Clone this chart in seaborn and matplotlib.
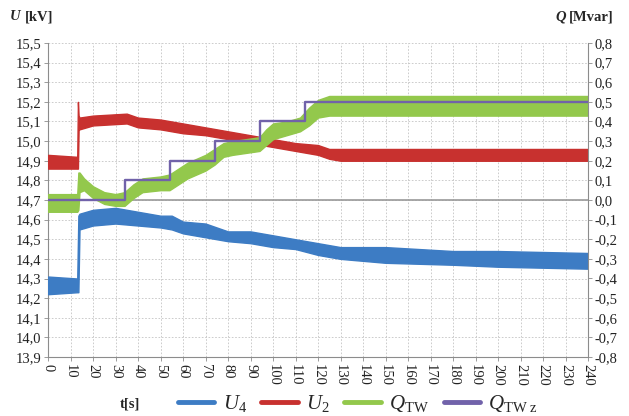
import numpy as np
import pandas as pd
import matplotlib
matplotlib.use("Agg")
import matplotlib.pyplot as plt
from matplotlib.lines import Line2D
from matplotlib.ticker import MultipleLocator, FuncFormatter
import seaborn as sns

# --- measured envelopes (min / max of the noisy records) ---
t_u4 = [0, 13, 13.5, 14, 20, 30, 40, 50, 55, 60, 70, 80, 90, 100, 110, 120, 130, 150, 180, 200, 240]
u4_lo = [14.22, 14.23, 14.23, 14.55, 14.57, 14.58, 14.57, 14.56, 14.55, 14.53, 14.51, 14.49,
         14.48, 14.46, 14.45, 14.42, 14.40, 14.38, 14.37, 14.36, 14.35]
u4_hi = [14.31, 14.30, 14.62, 14.63, 14.65, 14.66, 14.64, 14.62, 14.62, 14.59, 14.58, 14.54,
         14.54, 14.52, 14.50, 14.48, 14.46, 14.46, 14.44, 14.44, 14.43]

t_u2 = [0, 13, 13.3, 13.6, 14, 20, 35, 40, 50, 60, 70, 80, 90, 100, 110, 120, 125, 130, 240]
u2_lo = [14.86, 14.86, 14.86, 15.06, 15.06, 15.08, 15.09, 15.07, 15.06, 15.04, 15.03, 15.01,
         14.99, 14.97, 14.95, 14.93, 14.91, 14.90, 14.90]
u2_hi = [14.93, 14.92, 15.20, 15.13, 15.12, 15.13, 15.14, 15.12, 15.11, 15.09, 15.07, 15.05,
         15.03, 15.01, 14.99, 14.98, 14.96, 14.96, 14.96]

t_q = [0, 13, 13.5, 14, 16, 20, 25, 30, 34, 38, 42, 50, 54, 58, 62, 66, 70, 74, 78, 82, 88,
       94, 97, 100, 106, 112, 116, 120, 125, 130, 240]
q_lo = [-0.06, -0.06, -0.05, 0.04, 0.05, 0.01, -0.02, -0.03, -0.03, 0.01, 0.04, 0.05, 0.05,
        0.08, 0.11, 0.13, 0.15, 0.18, 0.22, 0.23, 0.24, 0.25, 0.28, 0.31, 0.33, 0.35, 0.38,
        0.42, 0.43, 0.43, 0.43]
q_hi = [0.03, 0.03, 0.14, 0.14, 0.11, 0.07, 0.04, 0.03, 0.04, 0.08, 0.11, 0.12, 0.13, 0.16,
        0.19, 0.21, 0.23, 0.26, 0.29, 0.30, 0.31, 0.32, 0.36, 0.39, 0.40, 0.42, 0.47, 0.51,
        0.53, 0.53, 0.53]

# reactive power set-point (step signal)
t_qz = [0, 34, 54, 74, 94, 114, 240]
qz = [0.0, 0.1, 0.2, 0.3, 0.4, 0.5, 0.5]

c_u4, c_u2, c_q, c_qz = "#3d7cc4", "#c8312f", "#93c84c", "#7162aa"

sns.set_theme(style="white")
plt.rcParams["font.family"] = ["Liberation Serif", "DejaVu Serif"]
plt.rcParams["mathtext.fontset"] = "custom"
plt.rcParams["mathtext.rm"] = "Liberation Serif"
plt.rcParams["mathtext.it"] = "Liberation Serif:italic"
plt.rcParams["mathtext.bf"] = "Liberation Serif:bold"

fig = plt.figure(figsize=(6.29, 4.16), dpi=100)
ax = fig.add_axes([48 / 629, 1 - 357 / 416, 540 / 629, 314 / 416])
ax2 = ax.twinx()

# voltages on the left axis
ax.fill_between(t_u4, u4_lo, u4_hi, color=c_u4, lw=1.0, edgecolor=c_u4, zorder=3)
ax.fill_between(t_u2, u2_lo, u2_hi, color=c_u2, lw=1.0, edgecolor=c_u2, zorder=3)

# reactive power on the right axis
ax2.axhline(0.0, color="#9a9a9a", lw=1.2, zorder=1)
ax2.fill_between(t_q, q_lo, q_hi, color=c_q, lw=1.0, edgecolor=c_q, zorder=2)
dq = pd.DataFrame({"t": t_qz, "q": qz})
sns.lineplot(data=dq, x="t", y="q", ax=ax2, color=c_qz, lw=1.7, drawstyle="steps-post", zorder=4)

ax.set_xlim(0, 240)
ax.set_ylim(13.9, 15.5)
ax2.set_ylim(-0.8, 0.8)
ax.xaxis.set_major_locator(MultipleLocator(10))
ax.yaxis.set_major_locator(MultipleLocator(0.1))
ax2.yaxis.set_major_locator(MultipleLocator(0.1))

comma = FuncFormatter(lambda v, p: f"{v:.1f}".replace(".", ",").replace("-0,0", "0,0"))
ax.yaxis.set_major_formatter(comma)
ax2.yaxis.set_major_formatter(comma)
ax.xaxis.set_major_formatter(FuncFormatter(lambda v, p: f"{v:.0f}"))

ax.grid(True, which="major", color="#c4c4c4", lw=0.6, ls=(0, (2, 2)))
ax.set_axisbelow(True)
for a in (ax, ax2):
    a.set_xlabel("")
    a.set_ylabel("")
    for s in a.spines.values():
        s.set_color("#8c8c8c")
        s.set_linewidth(0.8)
    a.spines["top"].set_visible(False)
ax.spines["right"].set_visible(False)
ax2.spines["left"].set_visible(False)
ax2.spines["bottom"].set_visible(False)

tick_kw = dict(length=3, width=0.6, color="#8c8c8c", labelsize=10.5, pad=2,
               labelcolor="#222222", labelfontfamily="Liberation Serif")
ax.tick_params(axis="y", left=True, **tick_kw)
ax.tick_params(axis="x", bottom=True, labelrotation=-90, **tick_kw)
ax2.tick_params(axis="y", right=True, **tick_kw)

# axis titles
fig.text(10 / 629, 1 - 17 / 416, "U", fontsize=10.5, fontweight="bold", fontstyle="italic",
         va="center", ha="left")
fig.text(25 / 629, 1 - 17 / 416, "[kV]", fontsize=10.5, fontweight="bold", va="center", ha="left")
fig.text(555 / 629, 1 - 17 / 416, "Q", fontsize=10.5, fontweight="bold", fontstyle="italic",
         va="center", ha="left")
fig.text(569 / 629, 1 - 17 / 416, "[Mvar]", fontsize=10.5, fontweight="bold", va="center", ha="left")

fig.text(130 / 629, 1 - 404 / 416, "t[s]", fontsize=10.5, fontweight="bold", va="center", ha="center")

handles = [Line2D([], [], color=c_u4, lw=3.5), Line2D([], [], color=c_u2, lw=3.5),
           Line2D([], [], color=c_q, lw=3.5), Line2D([], [], color=c_qz, lw=3.5)]
labels = [r"$U_4$", r"$U_2$", r"$Q_{\mathrm{TW}}$", r"$Q_{\mathrm{TW\ z}}$"]
fig.legend(handles, labels, loc="center left", bbox_to_anchor=(178 / 629, 1 - 404 / 416),
           ncol=4, frameon=False, fontsize=15, handlelength=1.75, handletextpad=0.4,
           columnspacing=0.7, borderaxespad=0, borderpad=0)

fig.savefig("out.png", dpi=100)
